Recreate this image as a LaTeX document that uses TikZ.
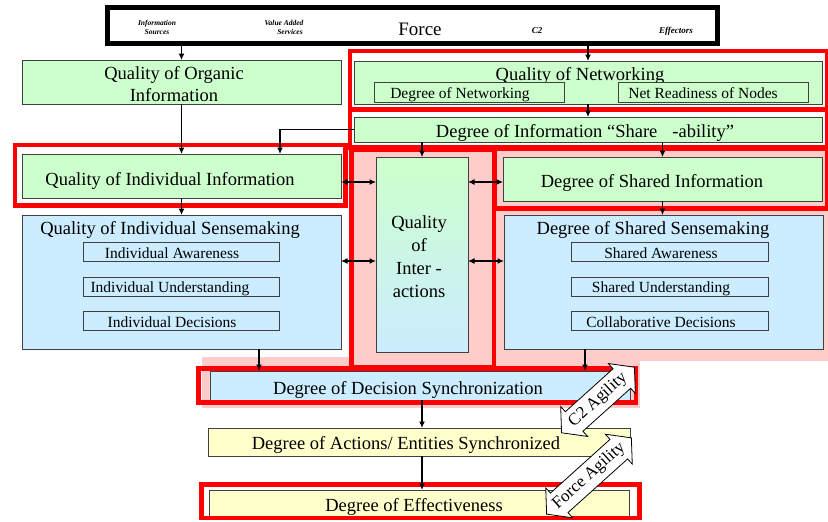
\documentclass[tikz,border=0pt]{standalone}
\usepackage{fontspec}
\setmainfont{Liberation Serif}
\usetikzlibrary{arrows.meta,shapes.arrows}
\definecolor{lgreen}{HTML}{CCFFCC}
\definecolor{lblue}{HTML}{CCECFF}
\definecolor{lyellow}{HTML}{FFFFCC}
\definecolor{lpink}{HTML}{FFCCCC}
\definecolor{fred}{HTML}{FF0000}
\definecolor{edgec}{HTML}{404040}
\begin{document}
\begin{tikzpicture}[x=1pt,y=-1pt,
  box/.style={draw=edgec, line width=0.8pt, inner sep=0pt, outer sep=0pt},
  big/.style={font=\fontsize{18.5}{22}\selectfont, inner sep=0pt, text height=12.5pt, text depth=0pt},
  small/.style={font=\fontsize{15.5}{18}\selectfont, inner sep=0pt, text height=10.5pt, text depth=0pt},
  hdr/.style={font=\fontsize{7.5}{9.5}\selectfont\bfseries\itshape, inner sep=0pt, align=center},
  redframe/.style={draw=fred, line width=4.5pt},
  arr/.style={line width=1.2pt, -{Latex[length=6.5pt,width=6pt]}},
  dbl/.style={line width=1.2pt, {Latex[length=6.5pt,width=6pt]}-{Latex[length=6.5pt,width=6pt]}},
  blk/.style={double arrow, draw=black, line width=0.8pt, fill=white,
    font=\fontsize{17}{17}\selectfont, inner xsep=-10pt, inner ysep=5pt,
    double arrow head extend=7pt, double arrow tip angle=100}
]
\useasboundingbox (0,0) rectangle (828,522);
\fill[white] (0,0) rectangle (828,522);

% pink backgrounds
\fill[lpink] (352,150) rectangle (494,368);
\fill[lpink] (494,150) rectangle (828,361);
\fill[lpink] (202,357) rectangle (640,408);

% header box
\node[draw=black, line width=5pt, minimum width=609.5pt, minimum height=36pt, inner sep=0pt, outer sep=0pt] (force) at (412.25,25.5) {};
\node[hdr] (fIS) at (157,27.5) {Information\\Sources};
\node[hdr] (fVA) at (284,27.5) {Value Added\\\hspace*{12pt}Services};
\node[font=\fontsize{19}{19}\selectfont, inner sep=0pt, text height=13pt, text depth=0pt] (fF) at (420,29) {Force};
\node[hdr, font=\fontsize{9}{9}\selectfont\bfseries\itshape] (fC2) at (537,31) {C2};
\node[hdr, font=\fontsize{9}{9}\selectfont\bfseries\itshape] (fEff) at (676,31) {Effectors};

% left column
\node[box, fill=lgreen, minimum width=319pt, minimum height=44pt] (organic) at (181.5,82) {};
\node[font=\fontsize{18.5}{22}\selectfont, inner sep=0pt, align=center] (tOrg) at (174,84) {Quality of Organic\\Information};
\node[box, fill=lgreen, minimum width=319pt, minimum height=44pt] (indinfo) at (181.5,176) {};
\node[big] (tIndInfo) at (170,179) {Quality of Individual Information};
\node[box, fill=lblue, minimum width=319pt, minimum height=134pt] (indsense) at (181.5,282) {};
\node[big] (tIndSense) at (170,228) {Quality of Individual Sensemaking};
\node[box, fill=lblue, minimum width=196pt, minimum height=19pt] (iaw) at (181,252) {};
\node[small] (tIaw) at (172,253) {Individual Awareness};
\node[box, fill=lblue, minimum width=196pt, minimum height=19pt] (iun) at (181,286.5) {};
\node[small] (tIun) at (170,287.5) {Individual Understanding};
\node[box, fill=lblue, minimum width=196pt, minimum height=19pt] (ide) at (181,321) {};
\node[small] (tIde) at (172,322) {Individual Decisions};

% right column
\node[box, fill=lgreen, minimum width=468pt, minimum height=43pt] (net) at (588,82.5) {};
\node[big] (tNet) at (580,74) {Quality of Networking};
\node[box, fill=lgreen, minimum width=190pt, minimum height=20pt] (netdeg) at (469,92) {};
\node[small] (tNetdeg) at (460,93) {Degree of Networking};
\node[box, fill=lgreen, minimum width=190pt, minimum height=20pt] (netrdy) at (713,92) {};
\node[small] (tNetrdy) at (703,93) {Net Readiness of Nodes};
\node[box, fill=lgreen, minimum width=468pt, minimum height=25pt] (share) at (588,129.5) {};
\node[big] (tShare) at (585,131) {Degree of Information “Share\hspace{15pt}-ability”};
\node[box, fill=lgreen, minimum width=319pt, minimum height=44pt] (sinfo) at (662.5,179) {};
\node[big] (tSinfo) at (652,181) {Degree of Shared Information};
\node[box, fill=lblue, minimum width=319pt, minimum height=134pt] (ssense) at (663.5,282) {};
\node[big] (tSsense) at (653,228) {Degree of Shared Sensemaking};
\node[box, fill=lblue, minimum width=197pt, minimum height=19pt] (saw) at (669.5,252) {};
\node[small] (tSaw) at (661,253) {Shared Awareness};
\node[box, fill=lblue, minimum width=197pt, minimum height=19pt] (sun) at (669.5,286.5) {};
\node[small] (tSun) at (661,287.5) {Shared Understanding};
\node[box, fill=lblue, minimum width=197pt, minimum height=19pt] (sde) at (669.5,321) {};
\node[small] (tSde) at (661,322) {Collaborative Decisions};

% center
\node[box, top color=lgreen, bottom color=lblue, minimum width=92pt, minimum height=195pt] (inter) at (422,254.5) {};
\node[font=\fontsize{18.5}{23}\selectfont, inner sep=0pt, align=center] (tInter) at (419,257) {Quality\\of\\Inter -\\actions};

% bottom
\node[box, fill=lblue, minimum width=420pt, minimum height=29pt] (dec) at (420,385.5) {};
\node[big] (tDec) at (408,388) {Degree of Decision Synchronization};
\node[box, fill=lyellow, minimum width=422pt, minimum height=28pt] (act) at (419,442) {};
\node[big] (tAct) at (406,443) {Degree of Actions/ Entities Synchronized};
\node[box, fill=lyellow, minimum width=420pt, minimum height=26pt] (eff) at (419,503) {};
\node[big] (tEff) at (414,505) {Degree of Effectiveness};

% red frames
\draw[redframe] (350,51) rectangle (827,109);
\draw[redframe] (350,110) rectangle (827,147.5);
\draw[redframe] (15,145) rectangle (345.5,205.5);
\draw[redframe] (351.5,149.5) rectangle (494,367.5);
\draw[redframe] (494.5,148.5) rectangle (827,208.5);
\draw[redframe] (198.5,368.5) rectangle (636,402.5);
\draw[redframe] (201.5,484.5) rectangle (639.5,518);

% connectors
\coordinate (dA) at (0,182);
\coordinate (dB) at (0,261);
\draw[arr] (organic.north |- force.south) -- (organic.north);
\draw[arr] (net.north |- force.south) -- (net.north);
\draw[arr] (organic.south) -- (indinfo.north);
\draw[arr] (indinfo.south) -- (indsense.north);
\draw[arr] (net.south) -- (share.north);
\draw[arr] (inter.north |- share.south) -- (inter.north);
\draw[arr] (sinfo.north |- share.south) -- (sinfo.north);
\draw[arr] (sinfo.south) -- (sinfo.south |- ssense.north);
\draw[arr] (share.west) -| ([xshift=98.5pt]indinfo.north);
\draw[arr] ([xshift=77.5pt]indsense.south) -- ([xshift=77.5pt]indsense.south |- dec.north);
\draw[arr] ([xshift=-78.5pt]ssense.south) -- ([xshift=-78.5pt]ssense.south |- dec.north);
\draw[arr] ([xshift=2pt]dec.south) -- ([xshift=2pt]dec.south |- act.north);
\draw[arr] ([xshift=3pt]act.south) -- ([xshift=3pt]act.south |- eff.north);
\draw[dbl] (indinfo.east |- dA) -- (inter.west |- dA);
\draw[dbl] (indsense.east |- dB) -- (inter.west |- dB);
\draw[dbl] (inter.east |- dA) -- (sinfo.west |- dA);
\draw[dbl] (inter.east |- dB) -- (ssense.west |- dB);

% agility block arrows
\node[blk, rotate=42, minimum height=98pt] (c2a) at (598,400) {C2 Agility};
\node[blk, rotate=42, minimum height=114pt] (fa) at (589,476) {Force Agility};
\end{tikzpicture}
\end{document}
